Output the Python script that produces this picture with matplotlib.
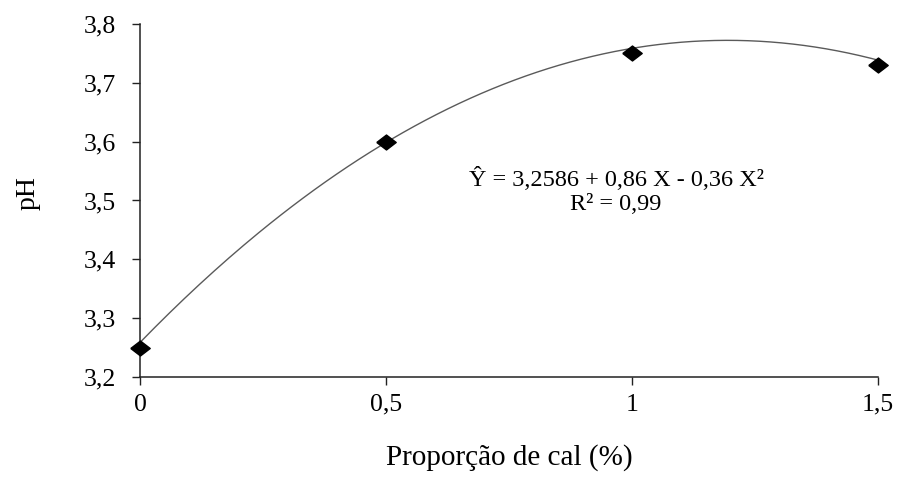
import numpy as np
import matplotlib.pyplot as plt

# observed points
cal = [0, 0.5, 1, 1.5]
ph = [3.25, 3.60, 3.75, 3.73]

# fitted quadratic coefficients (b0, b1, b2)
coef = [3.2586, 0.86, -0.36]

xticks = [0, 0.5, 1, 1.5]
xticklabels = ['0', '0,5', '1', '1,5']
yticks = [3.2, 3.3, 3.4, 3.5, 3.6, 3.7, 3.8]
yticklabels = ['3,2', '3,3', '3,4', '3,5', '3,6', '3,7', '3,8']

eq_line = 'Ŷ = 3,2586 + 0,86 X - 0,36 X²'
r2_line = 'R² = 0,99'

plt.rcParams['font.family'] = ['Liberation Serif', 'DejaVu Serif']

fig = plt.figure(figsize=(8.99, 4.8), dpi=100)
ax = fig.add_axes([0.1557, 0.2146, 0.8209, 0.7354])

# slightly wide diamond, like the original marker
diamond = [(-1.3, 0), (0, 1), (1.3, 0), (0, -1), (-1.3, 0)]

xs = np.linspace(cal[0], cal[-1], 200)
ax.plot(xs, coef[0] + coef[1] * xs + coef[2] * xs ** 2, color='#5a5a5a', lw=1.0, zorder=2)
ax.plot(cal, ph, linestyle='none', marker=diamond, color='black', markersize=14,
        zorder=3, clip_on=False)

ax.set_xlim(0, 1.5)
ax.set_ylim(3.2, 3.8)
ax.set_xticks(xticks)
ax.set_xticklabels(xticklabels)
ax.set_yticks(yticks)
ax.set_yticklabels(yticklabels)
ax.tick_params(labelsize=18.5, length=6, width=1, color='#222222')
ax.tick_params(axis='x', pad=6)
ax.tick_params(axis='y', pad=11)

for side in ['top', 'right']:
    ax.spines[side].set_visible(False)
for side in ['left', 'bottom']:
    ax.spines[side].set_linewidth(1.1)
    ax.spines[side].set_color('#222222')

ax.set_xlabel('Proporção de cal (%)', fontsize=21)
ax.xaxis.set_label_coords(0.5, -0.19)
ax.set_ylabel('pH', fontsize=20)
ax.yaxis.set_label_coords(-0.135, 0.52)

ax.text(0.645, 0.561, eq_line, transform=ax.transAxes, ha='center', va='center', fontsize=17.5)
ax.text(0.645, 0.49, r2_line, transform=ax.transAxes, ha='center', va='center', fontsize=17.5)

fig.savefig('out.png', dpi=100)
